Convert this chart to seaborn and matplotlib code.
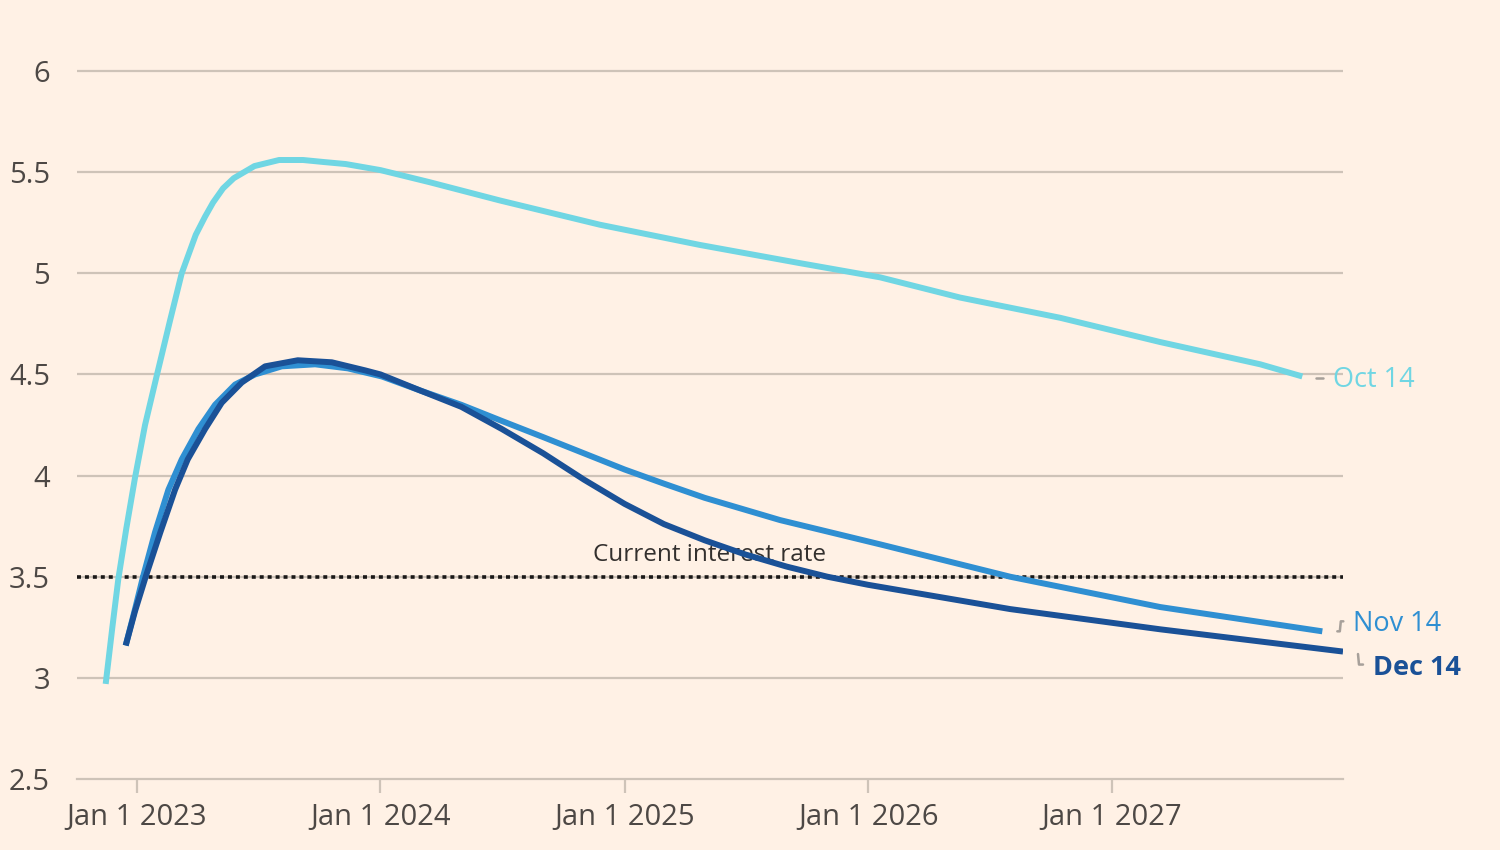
import numpy as np
import pandas as pd
import matplotlib
matplotlib.use("Agg")
import matplotlib.pyplot as plt
import matplotlib.dates as mdates
from matplotlib.lines import Line2D
import seaborn as sns

# ---------------- data ----------------
oct_dates = ["2022-11-15", "2022-11-25", "2022-12-04", "2022-12-16", "2022-12-29",
             "2023-01-13", "2023-01-31", "2023-02-19", "2023-03-09", "2023-03-30",
             "2023-04-13", "2023-04-25", "2023-05-10", "2023-05-26", "2023-06-26",
             "2023-08-02", "2023-09-07", "2023-10-08", "2023-11-10", "2024-01-01",
             "2024-03-15", "2024-06-28", "2024-11-25", "2025-04-24", "2025-09-21",
             "2026-01-19", "2026-05-19", "2026-10-16", "2027-03-15", "2027-08-12",
             "2027-10-14"]
oct_vals = [2.97, 3.25, 3.49, 3.74, 3.99,
            4.25, 4.50, 4.76, 5.00, 5.19,
            5.28, 5.35, 5.42, 5.47, 5.53,
            5.56, 5.56, 5.55, 5.54, 5.51,
            5.45, 5.36, 5.24, 5.14, 5.05,
            4.98, 4.88, 4.78, 4.66, 4.55,
            4.49]

nov_dates = ["2022-12-15", "2022-12-29", "2023-01-10", "2023-01-28", "2023-02-17",
             "2023-03-09", "2023-04-03", "2023-04-28", "2023-05-28", "2023-06-27",
             "2023-08-06", "2023-09-25", "2023-11-13", "2024-01-03", "2024-03-01",
             "2024-05-01", "2024-07-01", "2024-09-01", "2024-11-01", "2025-01-01",
             "2025-03-01", "2025-05-01", "2025-08-22", "2026-01-19", "2026-08-02",
             "2027-03-15", "2027-11-13"]
nov_vals = [3.16, 3.34, 3.50, 3.72, 3.93,
            4.08, 4.23, 4.35, 4.45, 4.50,
            4.54, 4.55, 4.53, 4.49, 4.42,
            4.35, 4.27, 4.19, 4.11, 4.03,
            3.96, 3.89, 3.78, 3.66, 3.50,
            3.35, 3.23]

dec_dates = ["2022-12-15", "2022-12-29", "2023-01-14", "2023-02-05", "2023-02-27",
             "2023-03-18", "2023-04-13", "2023-05-08", "2023-06-07", "2023-07-12",
             "2023-08-30", "2023-10-20", "2023-12-09", "2024-01-01", "2024-03-01",
             "2024-05-01", "2024-07-01", "2024-09-01", "2024-11-01", "2025-01-01",
             "2025-03-01", "2025-05-01", "2025-07-01", "2025-09-01", "2025-11-01",
             "2026-01-01", "2026-08-02", "2027-03-15", "2027-12-14"]
dec_vals = [3.16, 3.33, 3.50, 3.72, 3.93,
            4.08, 4.23, 4.36, 4.46, 4.54,
            4.57, 4.56, 4.52, 4.50, 4.42,
            4.34, 4.23, 4.11, 3.98, 3.86,
            3.76, 3.68, 3.61, 3.55, 3.50,
            3.46, 3.34, 3.24, 3.13]

series_names = ["Oct 14", "Nov 14", "Dec 14"]
current_rate = 3.5
current_rate_label = "Current interest rate"
y_ticks = [2.5, 3, 3.5, 4, 4.5, 5, 5.5, 6]
x_tick_years = [2023, 2024, 2025, 2026, 2027]
x_tick_labels = [f"Jan 1 {y}" for y in x_tick_years]

# ---------------- styling ----------------
BG = "#FFF1E5"
GRID = "#CEC3B8"
TEXT = "#4D4845"
colors = {"Oct 14": "#70D6E3", "Nov 14": "#2F8FD2", "Dec 14": "#1A5197"}

df = pd.concat([
    pd.DataFrame({"date": pd.to_datetime(oct_dates), "value": oct_vals, "forecast": series_names[0]}),
    pd.DataFrame({"date": pd.to_datetime(nov_dates), "value": nov_vals, "forecast": series_names[1]}),
    pd.DataFrame({"date": pd.to_datetime(dec_dates), "value": dec_vals, "forecast": series_names[2]}),
], ignore_index=True)

sns.set_theme(style="white")
plt.rcParams["font.family"] = ["Open Sans", "DejaVu Sans"]

W, H = 1500, 850
fig = plt.figure(figsize=(15, 8.5), dpi=100, facecolor=BG)
ppu = (779 - 71) / 3.5
top_px = 71 - 0.05 * ppu
bot_px = 779 + 0.05 * ppu
ax = fig.add_axes([77 / W, 1 - bot_px / H, (1343 - 77) / W, (bot_px - top_px) / H])
ax.set_facecolor(BG)

xmin = pd.Timestamp("2022-10-03")
xmax = pd.Timestamp("2027-12-14")
ax.set_xlim(mdates.date2num(xmin), mdates.date2num(xmax))
ax.set_ylim(2.45, 6.05)

for yv in y_ticks:
    if yv != 2.5:
        ax.axhline(yv, color=GRID, lw=1.6, zorder=0)

ax.axhline(current_rate, color="#1a1817", lw=2.6, ls=(0, (1.1, 1.1)), zorder=1)

sns.lineplot(data=df, x="date", y="value", hue="forecast", palette=colors,
             hue_order=series_names, estimator=None, sort=True, legend=False,
             linewidth=4.3, ax=ax, zorder=3)
for ln in ax.get_lines()[-3:]:
    ln.set_solid_capstyle("butt")
    ln.set_solid_joinstyle("round")

ax.text(mdates.date2num(pd.Timestamp("2025-05-09")), current_rate + 0.05, current_rate_label,
        ha="center", va="bottom", fontsize=17.5, color="#33302E", zorder=2)

for s in ["top", "right", "left"]:
    ax.spines[s].set_visible(False)
ax.spines["bottom"].set_position(("data", 2.5))
ax.spines["bottom"].set_color(GRID)
ax.spines["bottom"].set_linewidth(1.6)
ax.set_xticks([mdates.date2num(pd.Timestamp(f"{y}-01-01")) for y in x_tick_years])
ax.set_xticklabels(x_tick_labels)
ax.set_yticks(y_ticks)
ax.set_yticklabels([f"{v:g}" for v in y_ticks])
ax.tick_params(axis="x", bottom=True, direction="out", length=10, width=1.6, color=GRID,
               pad=7, labelsize=21, labelcolor=TEXT)
ax.tick_params(axis="y", left=False, length=0, pad=19.5, labelsize=21, labelcolor=TEXT)
ax.set_xlabel("")
ax.set_ylabel("")

# ---------------- end labels with small leader marks ----------------
def end_px(dates, vals):
    return ax.transData.transform((mdates.date2num(pd.Timestamp(dates[-1])), vals[-1]))

label_specs = [
    (oct_dates, oct_vals, "Oct 14", "normal", [(14, -1.5), (21, -1.5)], (31, -3.5)),
    (nov_dates, nov_vals, "Nov 14", "normal", [(15, 0), (17.5, 0), (18.5, 10), (21, 10)], (31, 7.5)),
    (dec_dates, dec_vals, "Dec 14", "bold", [(15, -2.5), (16, -13), (20, -13)], (30, -16.5)),
]
for dates, vals, name, weight, leader, txt_off in label_specs:
    px, py = end_px(dates, vals)
    xs = [px + dx for dx, dy in leader]
    ys = [py + dy for dx, dy in leader]
    fig.add_artist(Line2D(xs, ys, transform=None, color="#A7A09A", lw=1.8))
    fig.text((px + txt_off[0]) / W, (py + txt_off[1]) / H, name, ha="left", va="center",
             fontsize=19.5, color=colors[name], fontweight=weight)

fig.savefig("out.png", dpi=100, facecolor=BG)
